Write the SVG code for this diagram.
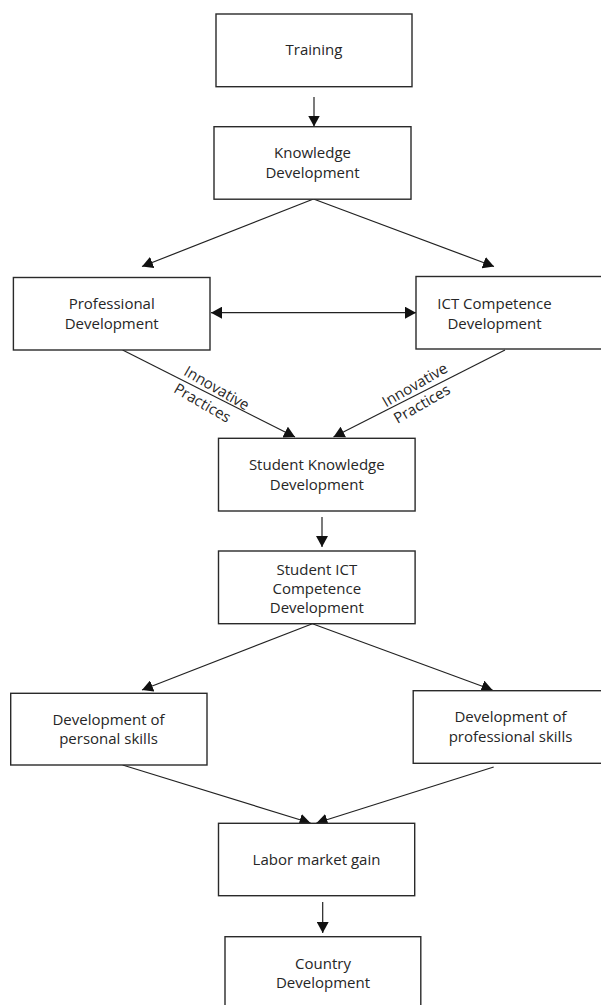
<svg xmlns="http://www.w3.org/2000/svg" width="601" height="1005" viewBox="0 0 601 1005">
<style>
.box{fill:#fff;stroke:#2a2a2a;stroke-width:1.4}
.t{font-family:"Open Sans","Liberation Sans",sans-serif;font-size:15px;fill:#262626;text-anchor:middle}
.c{stroke:#222;stroke-width:1.2;fill:none}
</style>
<defs>
<marker id="ah" markerUnits="userSpaceOnUse" markerWidth="12" markerHeight="12" refX="11" refY="6" orient="auto-start-reverse">
<path d="M0,0 L11,6 L0,12 z" fill="#111"/>
</marker>
</defs>
<rect width="601" height="1005" fill="#fff"/>
<g id="connectors">
<line class="c" x1="314" y1="97" x2="314" y2="126.5" marker-end="url(#ah)"/>
<line class="c" x1="313.5" y1="199" x2="142" y2="266.5" marker-end="url(#ah)"/>
<line class="c" x1="313.5" y1="199" x2="494" y2="266.5" marker-end="url(#ah)"/>
<line class="c" x1="211" y1="312.7" x2="416" y2="312.7" marker-start="url(#ah)" marker-end="url(#ah)"/>
<line class="c" x1="122.6" y1="350" x2="295" y2="437" marker-end="url(#ah)"/>
<line class="c" x1="505" y1="350" x2="333.5" y2="437" marker-end="url(#ah)"/>
<line class="c" x1="322" y1="517" x2="322" y2="547" marker-end="url(#ah)"/>
<line class="c" x1="312.4" y1="623.7" x2="142" y2="690" marker-end="url(#ah)"/>
<line class="c" x1="312.4" y1="623.7" x2="492.5" y2="690" marker-end="url(#ah)"/>
<line class="c" x1="122.6" y1="765" x2="310.5" y2="823" marker-end="url(#ah)"/>
<line class="c" x1="493.7" y1="767" x2="316.5" y2="823" marker-end="url(#ah)"/>
<line class="c" x1="322.7" y1="902" x2="322.7" y2="933" marker-end="url(#ah)"/>
<text class="t" transform="translate(216.7,388.3) rotate(30)"><tspan x="0" y="5">Innovative</tspan><tspan x="-5" y="25">Practices</tspan></text>
<text class="t" transform="translate(415,385) rotate(-30)"><tspan x="0" y="5">Innovative</tspan><tspan x="-3.5" y="25">Practices</tspan></text>
</g>
<g id="training">
<rect class="box" x="216" y="14" width="196" height="72.7"/>
<text class="t" x="314" y="55">Training</text>
</g>
<g id="knowledge">
<rect class="box" x="214" y="126.7" width="197" height="72.5"/>
<text class="t" x="312.5" y="158">Knowledge</text>
<text class="t" x="312.5" y="177.5">Development</text>
</g>
<g id="professional">
<rect class="box" x="13.4" y="277.5" width="196.6" height="72.5"/>
<text class="t" x="111.7" y="308.5">Professional</text>
<text class="t" x="111.7" y="328.5">Development</text>
</g>
<g id="ict">
<rect class="box" x="416" y="276.5" width="200" height="72.5"/>
<text class="t" x="494.5" y="308.5">ICT Competence</text>
<text class="t" x="494.5" y="328.5">Development</text>
</g>
<g id="student-knowledge">
<rect class="box" x="218.5" y="438.3" width="196.6" height="72.7"/>
<text class="t" x="316.8" y="470">Student Knowledge</text>
<text class="t" x="316.8" y="489.5">Development</text>
</g>
<g id="student-ict">
<rect class="box" x="218.5" y="551" width="196.6" height="72.7"/>
<text class="t" x="316.8" y="574.5">Student ICT</text>
<text class="t" x="316.8" y="593.5">Competence</text>
<text class="t" x="316.8" y="613">Development</text>
</g>
<g id="personal-skills">
<rect class="box" x="10.7" y="693.3" width="196.3" height="71.7"/>
<text class="t" x="108.5" y="724.5">Development of</text>
<text class="t" x="108.5" y="743.5">personal skills</text>
</g>
<g id="professional-skills">
<rect class="box" x="413.2" y="690.7" width="200" height="72.6"/>
<text class="t" x="510.5" y="722">Development of</text>
<text class="t" x="510.5" y="742">professional skills</text>
</g>
<g id="labor">
<rect class="box" x="218.5" y="823.3" width="196.2" height="72.4"/>
<text class="t" x="316.5" y="865">Labor market gain</text>
</g>
<g id="country">
<rect class="box" x="225" y="936.7" width="195.8" height="80"/>
<text class="t" x="323" y="968.5">Country</text>
<text class="t" x="323" y="988">Development</text>
</g>
</svg>
